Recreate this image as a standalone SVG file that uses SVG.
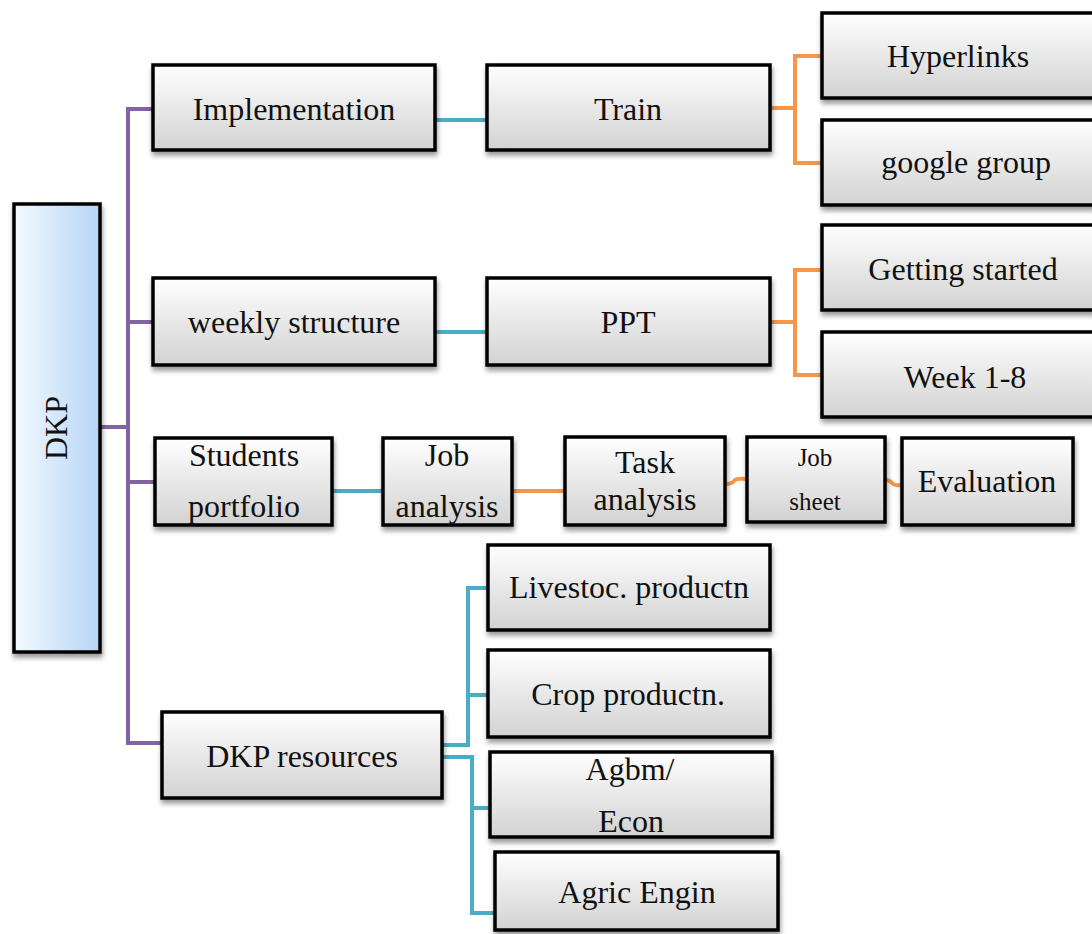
<svg xmlns="http://www.w3.org/2000/svg" width="1092" height="934" viewBox="0 0 1092 934">
<defs>
<linearGradient id="gBox" x1="0" y1="0" x2="0" y2="1">
<stop offset="0" stop-color="#ffffff"/>
<stop offset="1" stop-color="#d2d2d2"/>
</linearGradient>
<linearGradient id="gRoot" x1="0" y1="0" x2="1" y2="0">
<stop offset="0" stop-color="#f4faff"/>
<stop offset="1" stop-color="#b5d5f5"/>
</linearGradient>
<filter id="sh" x="-10%" y="-10%" width="130%" height="140%">
<feDropShadow dx="1" dy="4" stdDeviation="2.5" flood-color="#000" flood-opacity="0.4"/>
</filter>
</defs>
<style>
.box{fill:url(#gBox);stroke:#000;stroke-width:3.5;filter:url(#sh)}
.root{fill:url(#gRoot);stroke:#000;stroke-width:3.5;filter:url(#sh)}
text{font-family:"Liberation Serif","Times New Roman",serif;font-size:32px;fill:#111;text-anchor:middle}
.sm{font-size:25px}
.c{fill:none;stroke-width:4}
.p{stroke:#8064a2}
.b{stroke:#4bacc6}
.o{stroke:#f79646}
</style>
<rect width="1092" height="934" fill="#fff"/>
<g id="connectors">
<path class="c p" d="M100,427 H128" stroke-width="7"/>
<path class="c p" d="M153,109 H128 V743 H162"/>
<path class="c p" d="M128,322 H153"/>
<path class="c p" d="M128,482 H155"/>
<path class="c b" d="M435,120 H487"/>
<path class="c b" d="M435,332 H487"/>
<path class="c o" d="M770,108 H795 M822,56 H795 V163 H822"/>
<path class="c o" d="M770,322 H795 M822,270 H795 V375 H822"/>
<path class="c b" d="M332,491 H383"/>
<path class="c o" d="M512,491 H565"/>
<path class="c o" d="M725,484 Q732,484 734,481 Q736,478 747,479"/>
<path class="c o" d="M885,480 Q890,480 892,483 Q894,486 902,485"/>
<path class="c b" d="M442,745 H468 V588 H488 M468,695 H488"/>
<path class="c b" d="M442,757 H472 V913 H495 M472,808 H490"/>
</g>
<g id="root"><rect class="root" x="14" y="204" width="86" height="448"/><text transform="translate(67,428) rotate(-90)">DKP</text></g>
<g id="implementation"><rect class="box" x="153" y="65" width="282" height="85"/><text x="294" y="120">Implementation</text></g>
<g id="train"><rect class="box" x="487" y="65" width="283" height="85"/><text x="628" y="120">Train</text></g>
<g id="hyperlinks"><rect class="box" x="822" y="13" width="272" height="85"/><text x="958" y="67">Hyperlinks</text></g>
<g id="google-group"><rect class="box" x="822" y="120" width="272" height="85"/><text x="966" y="173">google group</text></g>
<g id="weekly-structure"><rect class="box" x="153" y="278" width="282" height="87"/><text x="294" y="333">weekly structure</text></g>
<g id="ppt"><rect class="box" x="487" y="278" width="283" height="87"/><text x="628" y="333">PPT</text></g>
<g id="getting-started"><rect class="box" x="822" y="225" width="272" height="85"/><text x="963" y="280">Getting started</text></g>
<g id="week"><rect class="box" x="822" y="332" width="272" height="85"/><text x="965" y="388">Week 1-8</text></g>
<g id="students-portfolio"><rect class="box" x="155" y="438" width="177" height="87"/><text x="244" y="466">Students</text><text x="244" y="517">portfolio</text></g>
<g id="job-analysis"><rect class="box" x="383" y="438" width="129" height="87"/><text x="447" y="466">Job</text><text x="447" y="517">analysis</text></g>
<g id="task-analysis"><rect class="box" x="565" y="437" width="160" height="88"/><text x="645" y="473">Task</text><text x="645" y="510">analysis</text></g>
<g id="job-sheet"><rect class="box" x="747" y="437" width="138" height="85"/><text class="sm" x="815" y="466">Job</text><text class="sm" x="815" y="510">sheet</text></g>
<g id="evaluation"><rect class="box" x="902" y="438" width="171" height="87"/><text x="987" y="492">Evaluation</text></g>
<g id="dkp-resources"><rect class="box" x="162" y="712" width="280" height="86"/><text x="302" y="767">DKP resources</text></g>
<g id="livestock"><rect class="box" x="488" y="545" width="282" height="85"/><text x="629" y="598">Livestoc. productn</text></g>
<g id="crop"><rect class="box" x="488" y="650" width="282" height="87"/><text x="628" y="705">Crop productn.</text></g>
<g id="agbm"><rect class="box" x="490" y="752" width="282" height="85"/><text x="630" y="780">Agbm/</text><text x="631" y="832">Econ</text></g>
<g id="agric-engin"><rect class="box" x="495" y="852" width="283" height="78"/><text x="637" y="903">Agric Engin</text></g>
</svg>
